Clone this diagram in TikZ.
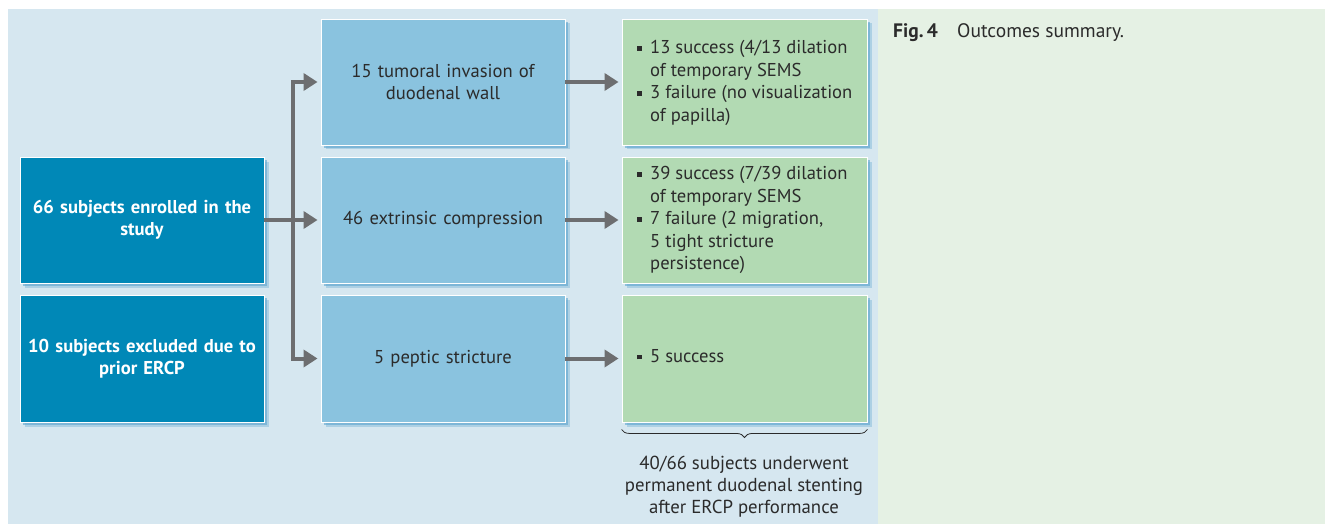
\documentclass[tikz,border=0pt]{standalone}
\usepackage{fontspec}
\setmainfont{PT Sans}
\usetikzlibrary{arrows.meta,shadows,decorations.pathreplacing,calc}
\definecolor{bgblue}{HTML}{D6E7F0}
\definecolor{bggreen}{HTML}{E5F1E4}
\definecolor{darkbox}{HTML}{0088B7}
\definecolor{lightbox}{HTML}{8AC3DF}
\definecolor{greenbox}{HTML}{B2DAB3}
\definecolor{arrowgray}{HTML}{6D6E70}
\definecolor{txt}{HTML}{2B2B2B}
\definecolor{shadowc}{HTML}{5FA6CF}
\newcommand{\bitem}{\makebox[13pt][l]{\raisebox{3pt}{\rule{4.4pt}{4.4pt}}}}
\newcommand{\bcont}{\hspace*{13pt}}
\newcommand{\nohyph}{\hyphenpenalty=10000 \exhyphenpenalty=10000 }
\tikzset{
  shad/.style={general shadow={shadow xshift=4.5pt,shadow yshift=-4.5pt,fill=shadowc,opacity=0.35},
               general shadow={shadow xshift=3pt,shadow yshift=-3pt,fill=shadowc,opacity=0.6}},
  box/.style={shad,draw=white,line width=0.9pt,minimum width=244pt,inner sep=1pt,
              text width=240pt,align=center,font=\fontsize{18.6}{22.5}\selectfont\nohyph},
  darkb/.style={box,fill=darkbox,text=white,font=\fontsize{18.6}{22.5}\selectfont\bfseries\nohyph},
  lightb/.style={box,fill=lightbox,text=txt},
  greenb/.style={box,fill=greenbox,text=txt},
  gtext/.style={anchor=west,align=left,inner sep=0pt,text=txt,font=\fontsize{18.6}{22.5}\selectfont},
  conn/.style={draw=arrowgray,line width=4pt,-{Triangle[width=17pt,length=14pt]},shorten >=3pt},
  plain/.style={draw=arrowgray,line width=4pt}
}
\begin{document}
\begin{tikzpicture}[x=1pt,y=-1pt]
\useasboundingbox (0,0) rectangle (1325,524);
\fill[white] (0,0) rectangle (1325,524);
\fill[bgblue] (8,9) rectangle (878,524);
\fill[bggreen] (878,9) rectangle (1325,524);

% left boxes
\node[darkb,minimum height=126pt] (d1) at (142,220) {66 subjects enrolled in the\\study};
\node[darkb,minimum height=127pt] (d2) at (142,358.5) {10 subjects excluded due to\\prior ERCP};

% middle boxes
\node[lightb,minimum height=126pt] (l1) at (443,82) {15 tumoral invasion of\\duodenal wall};
\node[lightb,minimum height=126pt] (l2) at (443,220) {46 extrinsic compression};
\node[lightb,minimum height=127pt] (l3) at (443,358.5) {5 peptic stricture};

% right boxes
\node[greenb,minimum width=245pt,minimum height=126pt] (g1) at (744.5,82) {};
\node[greenb,minimum width=245pt,minimum height=126pt] (g2) at (744.5,220) {};
\node[greenb,minimum width=245pt,minimum height=127pt] (g3) at (744.5,358.5) {};

\node[gtext] (t1) at (637,83) {\bitem 13 success (4/13 dilation\\\bcont of temporary SEMS\\\bitem 3 failure (no visualization\\\bcont of papilla)};
\node[gtext] (t2) at (637,220) {\bitem 39 success (7/39 dilation\\\bcont of temporary SEMS\\\bitem 7 failure (2 migration,\\\bcont 5 tight stricture\\\bcont persistence)};
\node[gtext] (t3) at (637,356) {\bitem 5 success};

% connectors
\coordinate (split) at (293,220);
\draw[conn] (d1.east) -- (l2.west);
\draw[conn] (split) |- (l1.west);
\draw[conn] (split) |- (l3.west);
\draw[conn] (l1.east) -- (g1.west);
\draw[conn] (l2.east) -- (g2.west);
\draw[conn] (l3.east) -- (g3.west);

% brace
\coordinate (bl) at ($(g3.south west)+(0,7)$);
\coordinate (br) at ($(g3.south east)+(0,7)$);
\draw[txt,line width=0.8pt,decorate,decoration={brace,mirror,amplitude=8pt}] (bl) -- (br);
\node[align=center,text=txt,font=\fontsize{18.8}{22}\selectfont,inner sep=0pt] (note) at (744,487)
  {40/66 subjects underwent\\permanent duodenal stenting\\after ERCP performance};

% caption
\node[anchor=base west,inner sep=0pt,text=txt,font=\fontsize{19.5}{22}\selectfont\bfseries] (figlab) at (893,38) {Fig.\,4};
\node[anchor=base west,inner sep=0pt,text=txt,font=\fontsize{19.5}{22}\selectfont] (figcap) at (957,38) {Outcomes summary.};
\end{tikzpicture}
\end{document}
